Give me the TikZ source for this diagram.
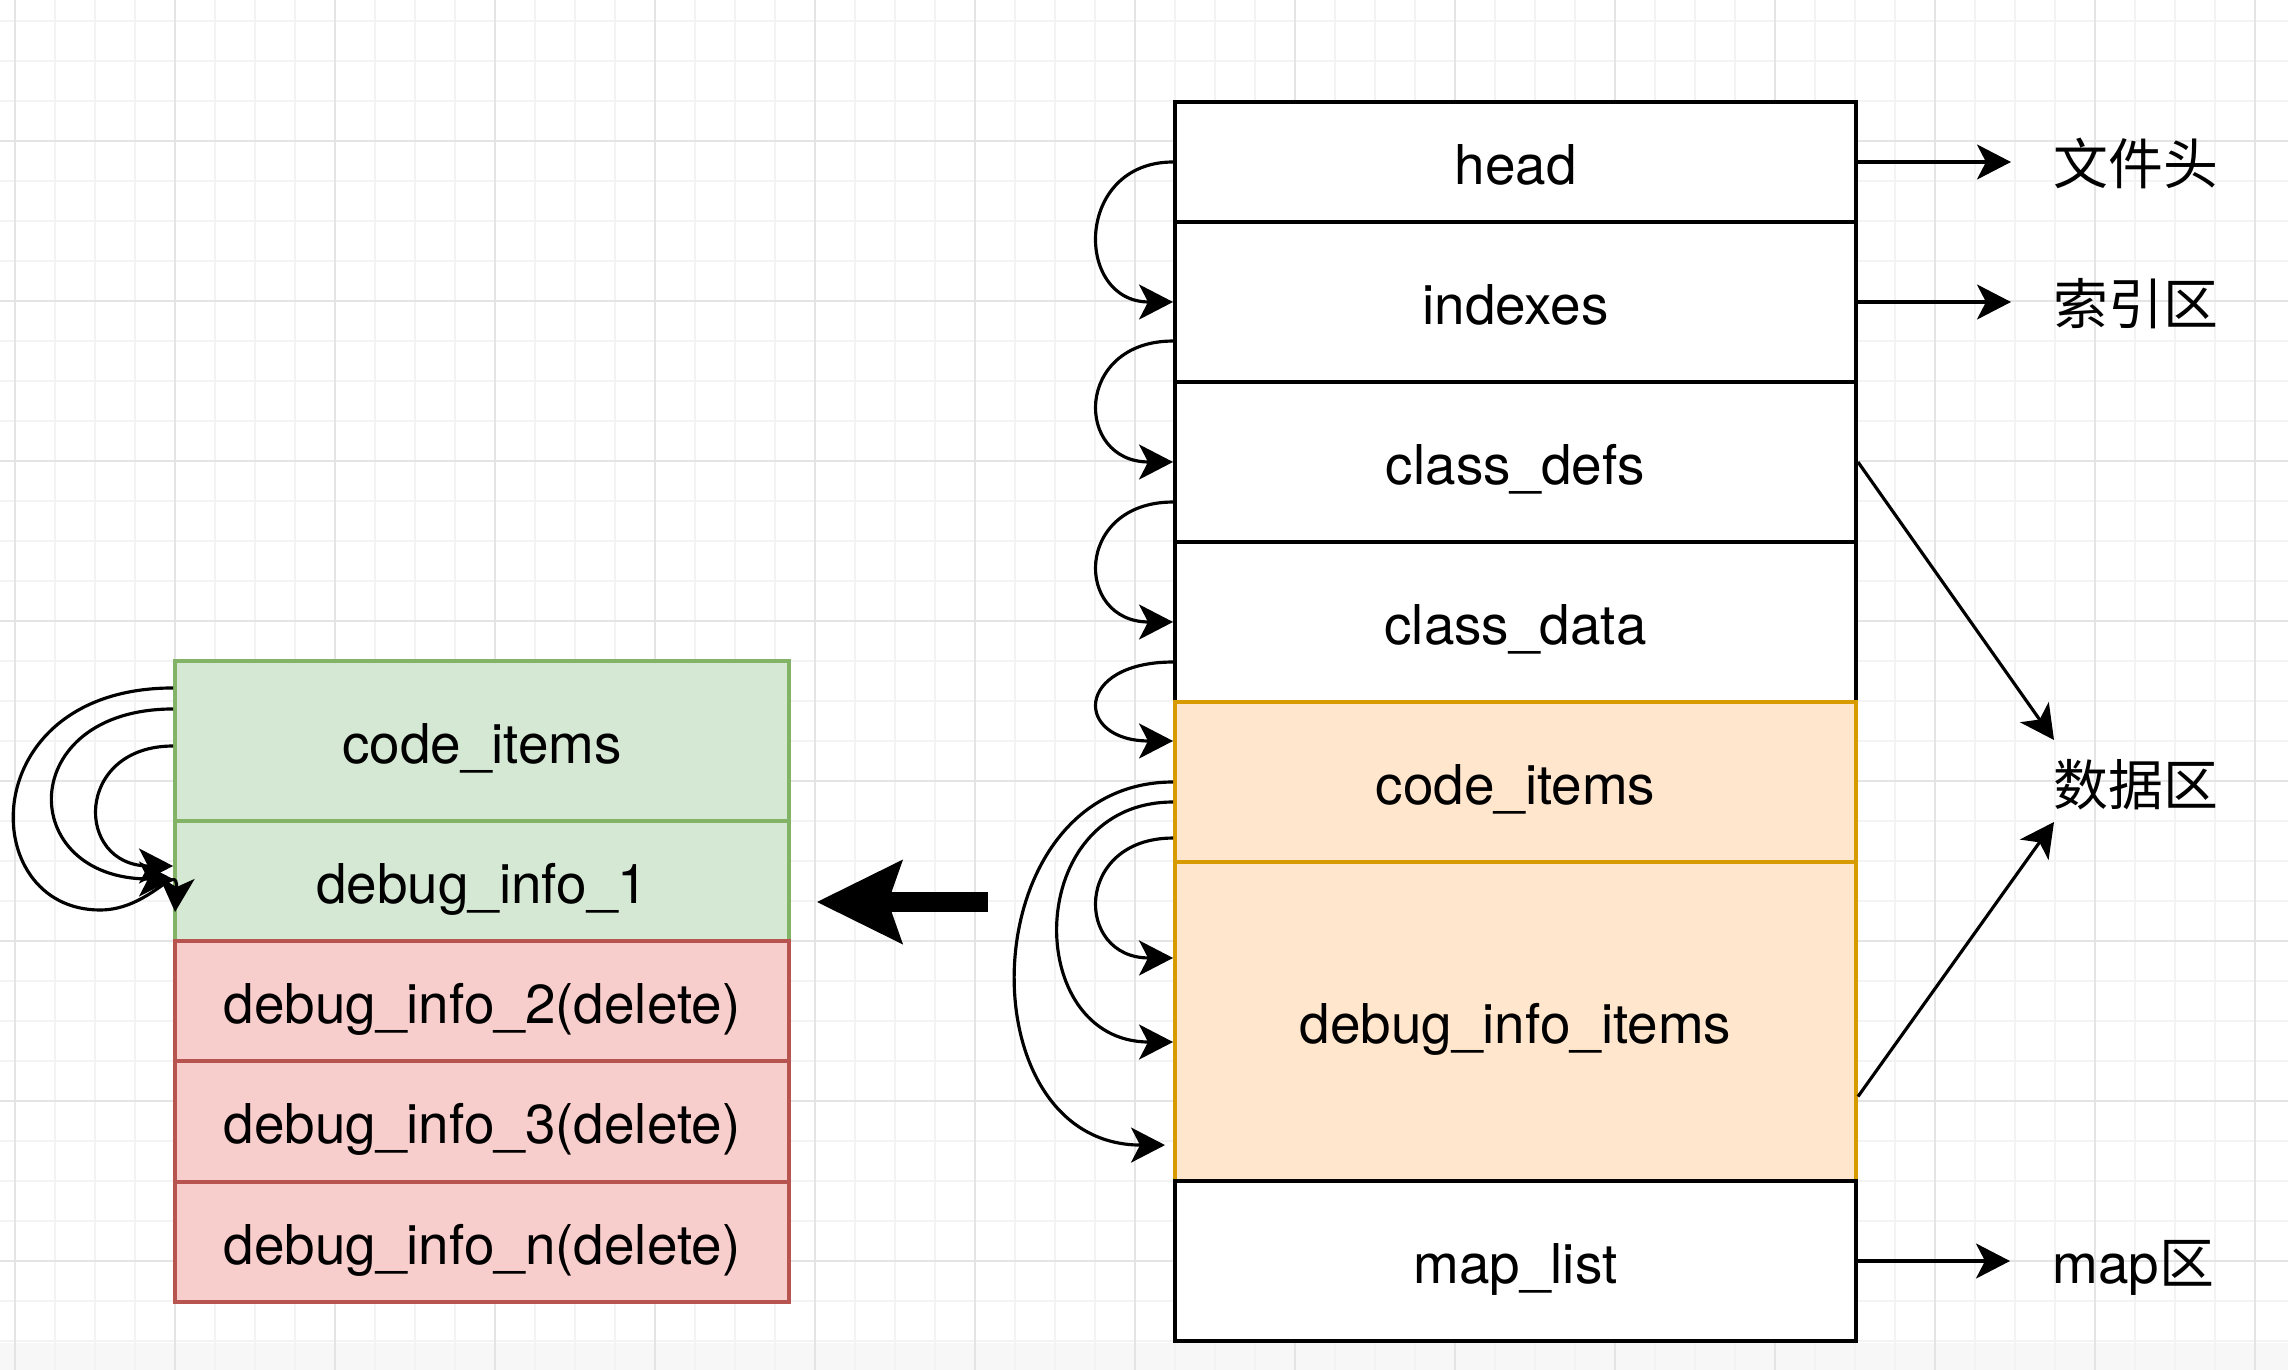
\documentclass[tikz,border=0pt]{standalone}
\usepackage{fontspec}
\setmainfont{TeX Gyre Heros}
\newfontfamily\cjk{Noto Sans CJK SC}
\usetikzlibrary{arrows.meta}
\newcommand\lblfont{\fontsize{15.6pt}{18pt}\selectfont}
\definecolor{gridmajor}{HTML}{E4E4E4}
\definecolor{gridminor}{HTML}{F3F3F3}
\definecolor{grfill}{HTML}{D5E8D4}
\definecolor{grline}{HTML}{82B366}
\definecolor{rdfill}{HTML}{F8CECC}
\definecolor{rdline}{HTML}{B85450}
\definecolor{orfill}{HTML}{FFE6CC}
\definecolor{orline}{HTML}{D79B00}
\begin{document}
\begin{tikzpicture}[x=0.01cm,y=-0.01cm,
  cell/.style={draw=black, line width=1pt, fill=white, inner sep=0pt, text height=0.5cm, text depth=0.06cm, font=\lblfont},
  rcell/.style={cell, minimum width=6.81cm},
  lcell/.style={cell, minimum width=6.14cm},
  grcell/.style={lcell, draw=grline, fill=grfill},
  rdcell/.style={lcell, draw=rdline, fill=rdfill},
  orcell/.style={rcell, draw=orline, fill=orfill},
  side/.style={inner xsep=0.42cm, inner ysep=0pt, text height=0.5cm, text depth=0.06cm, font=\lblfont},
  arr/.style={line width=0.9pt, -{Stealth[length=0.34cm,width=0.35cm,inset=0.09cm]}},
  bigarr/.style={line width=0.2cm, -{Stealth[length=0.86cm,width=0.85cm,inset=0.15cm,line width=0pt]}},
  gminor/.style={draw=gridminor, line width=0.5pt},
  gmajor/.style={draw=gridmajor, line width=0.6pt}
]
\useasboundingbox (0,0) rectangle (2288,1370);
\fill[white] (0,0) rectangle (2288,1370);
\fill[black!3] (0,1343) rectangle (2288,1370);
% grid
\foreach \x in {15,55,...,2288} \draw[gminor] (\x,0) -- (\x,1370);
\foreach \y in {21,61,...,1370} \draw[gminor] (0,\y) -- (2288,\y);
\foreach \x in {15,175,...,2288} \draw[gmajor] (\x,0) -- (\x,1370);
\foreach \y in {141,301,...,1370} \draw[gmajor] (0,\y) -- (2288,\y);

% right column
\node[rcell, minimum height=1.2cm] (rhead) at (1515.5,162) {head};
\node[rcell, minimum height=1.6cm] (ridx) at (1515.5,302) {indexes};
\node[rcell, minimum height=1.6cm] (rcdefs) at (1515.5,462) {class\_defs};
\node[rcell, minimum height=1.6cm] (rcdata) at (1515.5,622) {class\_data};
\node[orcell, minimum height=1.6cm] (rcode) at (1515.5,782) {code\_items};
\node[orcell, minimum height=3.19cm] (rdebug) at (1515.5,1021.5) {debug\_info\_items};
\node[rcell, minimum height=1.6cm] (rmap) at (1515.5,1261) {map\_list};

% left column
\node[grcell, minimum height=1.6cm] (lcode) at (482,741) {code\_items};
\node[grcell, minimum height=1.2cm] (ldbg1) at (482,881) {debug\_info\_1};
\node[rdcell, minimum height=1.2cm] (ldbg2) at (482,1001) {debug\_info\_2(delete)};
\node[rdcell, minimum height=1.2cm] (ldbg3) at (482,1121.5) {debug\_info\_3(delete)};
\node[rdcell, minimum height=1.2cm] (ldbgn) at (482,1242) {debug\_info\_n(delete)};

% side labels
\node[side] (lblhead) at (2136,162) {\cjk 文件头};
\node[side] (lblidx) at (2136,302) {\cjk 索引区};
\node[side] (lbldata) at (2136,783) {\cjk 数据区};
\node[side] (lblmap) at (2133.5,1261) {map{\cjk 区}};
\coordinate (dtop) at (2054,740);
\coordinate (dbot) at (2054,822);

% right arrows
\draw[arr] (rhead.east) -- (lblhead.west);
\draw[arr] (ridx.east) -- (lblidx.west);
\draw[arr] (rmap.east) -- (lblmap.west);
\draw[arr] (rcdefs.east) -- (dtop);
\draw[arr] ([yshift=-0.75cm]rdebug.east) -- (dbot);

% chain curves on the right column
\draw[arr] (rhead.west) .. controls +(-99,0) and +(-99,0) .. (ridx.west);
\draw[arr] ([yshift=-0.39cm]ridx.west) .. controls +(-99,0) and +(-99,0) .. (rcdefs.west);
\draw[arr] ([yshift=-0.40cm]rcdefs.west) .. controls +(-99,0) and +(-99,0) .. (rcdata.west);
\draw[arr] ([yshift=-0.40cm]rcdata.west) .. controls +(-99,0) and +(-99,0) .. ([yshift=0.41cm]rcode.west);
\draw[arr] (rcode.west) .. controls +(-202,0) and +(-202,0) .. ([xshift=-0.08cm,yshift=-1.235cm]rdebug.west);
\draw[arr] ([yshift=-0.2cm]rcode.west) .. controls +(-151,0) and +(-151,0) .. ([yshift=-0.205cm]rdebug.west);
\draw[arr] ([yshift=-0.56cm]rcode.west) .. controls +(-99,0) and +(-99,0) .. ([yshift=0.635cm]rdebug.west);

% curves on the left column
\coordinate (lbend) at (100,910);
\draw[arr] ([yshift=0.53cm]lcode.west) .. controls +(-200,0) and +(-125,0) .. (lbend) .. controls +(50,0) and +(3,-52) .. ([xshift=0.02cm,yshift=-0.31cm]ldbg1.west);
\draw[arr] ([yshift=0.32cm]lcode.west) .. controls +(-158,0) and +(-158,0) .. ([yshift=0.02cm]ldbg1.west);
\draw[arr] ([yshift=-0.05cm]lcode.west) .. controls +(-99,0) and +(-99,0) .. ([yshift=0.15cm]ldbg1.west);

% big arrow
\coordinate (bigtail) at (988,902);
\coordinate (bighead) at (817,902);
\draw[bigarr] (bigtail) -- (bighead);
\end{tikzpicture}
\end{document}
